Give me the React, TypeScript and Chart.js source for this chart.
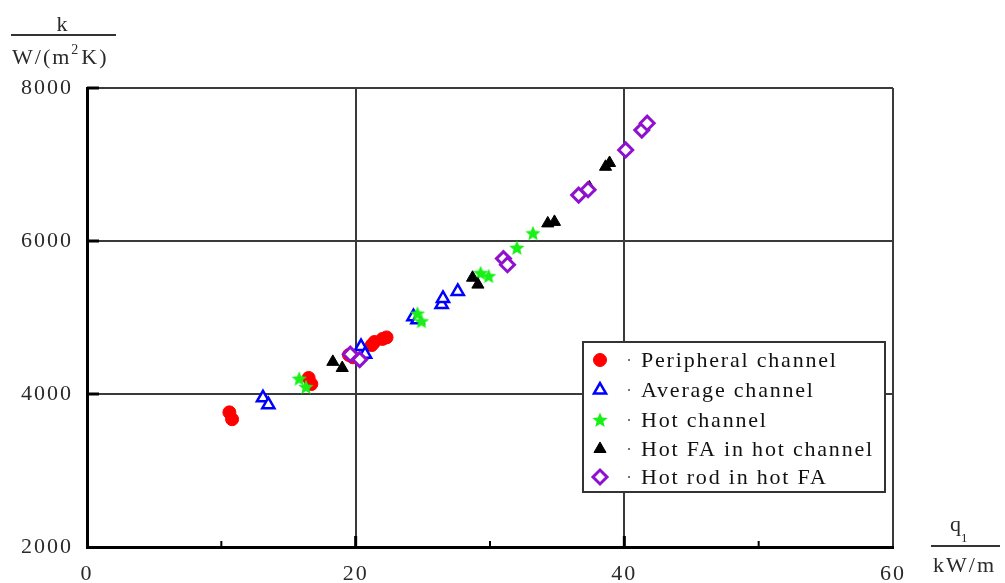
import React, { useEffect, useRef } from 'react';
import { Chart, registerables } from 'chart.js';

Chart.register(...registerables);

// ---------- data ----------
const seriesNames = [
  'Peripheral channel',
  'Average channel',
  'Hot channel',
  'Hot FA in hot channel',
  'Hot rod in hot FA',
];

const peripheralX = [10.6, 10.8, 16.5, 16.7, 19.5, 19.8, 21.2, 21.4, 22.0, 22.3];
const peripheralY = [3760, 3670, 4210, 4130, 4510, 4480, 4640, 4680, 4720, 4740];

const averageX = [13.1, 13.5, 20.4, 20.7, 24.3, 24.6, 26.4, 26.5, 27.6];
const averageY = [3950, 3860, 4620, 4520, 5010, 4970, 5170, 5250, 5340];

const hotX = [15.8, 16.3, 24.6, 24.9, 29.3, 29.9, 32.0, 33.2];
const hotY = [4200, 4090, 5050, 4950, 5580, 5540, 5910, 6100];

const hotFAX = [18.3, 19.0, 28.7, 29.1, 34.3, 34.8, 37.4, 38.6, 38.9];
const hotFAY = [4420, 4340, 5520, 5430, 6230, 6250, 6700, 6970, 7020];

const hotRodX = [19.6, 20.3, 31.0, 31.3, 36.6, 37.3, 40.1, 41.3, 41.7];
const hotRodY = [4520, 4450, 5770, 5690, 6600, 6670, 7190, 7450, 7540];

const xTicks = [0, 20, 40, 60];
const yTicks = [2000, 4000, 6000, 8000];
const xMinorTicks = [10, 30, 50];

const SERIF = '"Liberation Serif", "Times New Roman", serif';

function zip(xs: number[], ys: number[]) {
  return xs.map((x, i) => ({ x, y: ys[i] }));
}

function makeStar(size: number, color: string): HTMLCanvasElement {
  const c = document.createElement('canvas');
  c.width = size;
  c.height = size;
  const ctx = c.getContext('2d')!;
  const cx = size / 2;
  const cy = size / 2 + 0.5;
  const ro = size / 2;
  const ri = ro * 0.45;
  ctx.beginPath();
  for (let i = 0; i < 10; i++) {
    const r = i % 2 === 0 ? ro : ri;
    const a = -Math.PI / 2 + (i * Math.PI) / 5;
    const px = cx + Math.cos(a) * r;
    const py = cy + Math.sin(a) * r;
    if (i === 0) ctx.moveTo(px, py);
    else ctx.lineTo(px, py);
  }
  ctx.closePath();
  ctx.fillStyle = color;
  ctx.fill();
  return c;
}

function drawMarker(ctx: CanvasRenderingContext2D, ds: any, x: number, y: number) {
  const style = ds.pointStyle;
  const r = ds.pointRadius;
  ctx.save();
  ctx.lineWidth = ds.borderWidth || 1;
  ctx.strokeStyle = ds.borderColor;
  ctx.fillStyle = ds.backgroundColor;
  if (style instanceof HTMLCanvasElement) {
    ctx.drawImage(style, x - style.width / 2, y - style.height / 2);
    ctx.restore();
    return;
  }
  ctx.beginPath();
  if (style === 'circle') {
    ctx.arc(x, y, r, 0, Math.PI * 2);
  } else if (style === 'triangle') {
    let a = 0;
    ctx.moveTo(x + Math.sin(a) * r, y - Math.cos(a) * r);
    a += (2 * Math.PI) / 3;
    ctx.lineTo(x + Math.sin(a) * r, y - Math.cos(a) * r);
    a += (2 * Math.PI) / 3;
    ctx.lineTo(x + Math.sin(a) * r, y - Math.cos(a) * r);
    ctx.closePath();
  } else if (style === 'rectRot') {
    ctx.moveTo(x, y - r);
    ctx.lineTo(x + r, y);
    ctx.lineTo(x, y + r);
    ctx.lineTo(x - r, y);
    ctx.closePath();
  }
  ctx.fill();
  ctx.stroke();
  ctx.restore();
}

const spacingPlugin = {
  id: 'spacing',
  beforeDraw(chart: any) {
    (chart.ctx as any).letterSpacing = '2px';
  },
};

const decorPlugin = {
  id: 'decor',
  afterDraw(chart: any) {
    const ctx: CanvasRenderingContext2D = chart.ctx;
    const xs = chart.scales.x;
    const ys = chart.scales.y;
    const area = chart.chartArea;
    ctx.save();
    (ctx as any).letterSpacing = '2px';

    // major ticks (inward)
    ctx.strokeStyle = '#000';
    ctx.lineWidth = 3;
    yTicks.slice(1).forEach((v) => {
      const py = ys.getPixelForValue(v);
      ctx.beginPath();
      ctx.moveTo(area.left, py);
      ctx.lineTo(area.left + 12, py);
      ctx.stroke();
    });
    xTicks.slice(1, 3).forEach((v) => {
      const px = xs.getPixelForValue(v);
      ctx.beginPath();
      ctx.moveTo(px, area.bottom);
      ctx.lineTo(px, area.bottom - 11);
      ctx.stroke();
    });
    ctx.lineWidth = 2;
    xMinorTicks.forEach((v) => {
      const px = xs.getPixelForValue(v);
      ctx.beginPath();
      ctx.moveTo(px, area.bottom);
      ctx.lineTo(px, area.bottom - 6);
      ctx.stroke();
    });

    // axis titles
    ctx.fillStyle = '#2a2a2a';
    ctx.textBaseline = 'alphabetic';
    ctx.font = `22px ${SERIF}`;
    ctx.textAlign = 'center';
    ctx.fillText('k', 63, 31);
    ctx.strokeStyle = '#333';
    ctx.lineWidth = 2;
    ctx.beginPath();
    ctx.moveTo(11, 35);
    ctx.lineTo(116, 35);
    ctx.stroke();
    // W/(m^2K)
    ctx.textAlign = 'left';
    let cx = 12;
    ctx.font = `22px ${SERIF}`;
    ctx.fillText('W/(m', cx, 64);
    cx += ctx.measureText('W/(m').width;
    ctx.font = `14px ${SERIF}`;
    ctx.fillText('2', cx, 54);
    cx += ctx.measureText('2').width + 1;
    ctx.font = `22px ${SERIF}`;
    ctx.fillText('K)', cx, 64);

    // q1 / kW/m
    ctx.font = `22px ${SERIF}`;
    ctx.fillText('q', 950, 531);
    const qw = ctx.measureText('q').width;
    ctx.font = `13px ${SERIF}`;
    ctx.fillText('1', 950 + qw - 2, 542);
    ctx.beginPath();
    ctx.moveTo(931, 546);
    ctx.lineTo(1000, 546);
    ctx.stroke();
    ctx.font = `22px ${SERIF}`;
    ctx.fillText('kW/m', 933, 572);

    // legend
    const lx = 583, ly = 342, lw = 302, lh = 150;
    ctx.fillStyle = '#fff';
    ctx.fillRect(lx, ly, lw, lh);
    ctx.strokeStyle = '#333';
    ctx.lineWidth = 2;
    ctx.strokeRect(lx, ly, lw, lh);
    const rows = [360, 390, 420, 449, 477];
    chart.data.datasets.forEach((ds: any, i: number) => {
      const ry = rows[i];
      drawMarker(ctx, ds, 600, ry);
      ctx.fillStyle = '#777';
      ctx.fillRect(628, ry - 1, 2, 2);
      ctx.fillStyle = '#111';
      ctx.font = `22px ${SERIF}`;
      (ctx as any).letterSpacing = '1.8px';
      ctx.textAlign = 'left';
      ctx.textBaseline = 'middle';
      ctx.fillText(ds.label, 641, ry + 1);
    });
    ctx.restore();
  },
};

export default function App() {
  const ref = useRef<HTMLCanvasElement>(null);

  useEffect(() => {
    document.body.style.margin = '0';
    const star = makeStar(16, '#18f018');
    const chart = new Chart(ref.current!, {
      type: 'scatter',
      data: {
        datasets: [
          {
            label: seriesNames[0],
            data: zip(peripheralX, peripheralY),
            pointStyle: 'circle',
            pointRadius: 6.5,
            backgroundColor: '#ff0000',
            borderColor: '#ff0000',
            borderWidth: 1,
            order: 5,
          },
          {
            label: seriesNames[1],
            data: zip(averageX, averageY),
            pointStyle: 'triangle',
            pointRadius: 7,
            backgroundColor: '#ffffff',
            borderColor: '#0000ff',
            borderWidth: 2.5,
            order: 4,
          },
          {
            label: seriesNames[2],
            data: zip(hotX, hotY),
            pointStyle: star as any,
            pointRadius: 8,
            backgroundColor: '#18f018',
            borderColor: '#18f018',
            order: 3,
          },
          {
            label: seriesNames[3],
            data: zip(hotFAX, hotFAY),
            pointStyle: 'triangle',
            pointRadius: 7,
            backgroundColor: '#000000',
            borderColor: '#000000',
            borderWidth: 1,
            order: 2,
          },
          {
            label: seriesNames[4],
            data: zip(hotRodX, hotRodY),
            pointStyle: 'rectRot',
            pointRadius: 7,
            backgroundColor: '#ffffff',
            borderColor: '#9010d0',
            borderWidth: 3,
            order: 1,
          },
        ] as any,
      },
      options: {
        responsive: false,
        animation: false,
        devicePixelRatio: 1,
        layout: { padding: { top: 88, right: 112, left: 0, bottom: 0 } },
        plugins: {
          legend: { display: false },
          tooltip: { enabled: false },
        },
        scales: {
          x: {
            type: 'linear',
            min: 0,
            max: 60,
            afterBuildTicks: (s: any) => {
              s.ticks = xTicks.map((v) => ({ value: v }));
            },
            ticks: {
              color: '#2a2a2a',
              font: { family: SERIF, size: 22 },
              padding: 14,
              maxRotation: 0,
              callback: (v: any) => String(v),
            },
            grid: { color: '#3a3a3a', lineWidth: 2, drawTicks: false },
            border: { color: '#000', width: 3 },
            afterFit: (s: any) => {
              s.height = 36;
            },
          },
          y: {
            type: 'linear',
            min: 2000,
            max: 8000,
            afterBuildTicks: (s: any) => {
              s.ticks = yTicks.map((v) => ({ value: v }));
            },
            ticks: {
              color: '#2a2a2a',
              font: { family: SERIF, size: 22 },
              padding: 14,
              callback: (v: any) => String(v),
            },
            grid: { color: '#3a3a3a', lineWidth: 2, drawTicks: false },
            border: { color: '#000', width: 3 },
            afterFit: (s: any) => {
              s.width = 87;
            },
          },
        },
      },
      plugins: [spacingPlugin, decorPlugin],
    });
    return () => chart.destroy();
  }, []);

  return (
    <canvas
      ref={ref}
      width={1005}
      height={583}
      style={{ display: 'block', position: 'absolute', left: 0, top: 0, width: 1005, height: 583 }}
    />
  );
}
